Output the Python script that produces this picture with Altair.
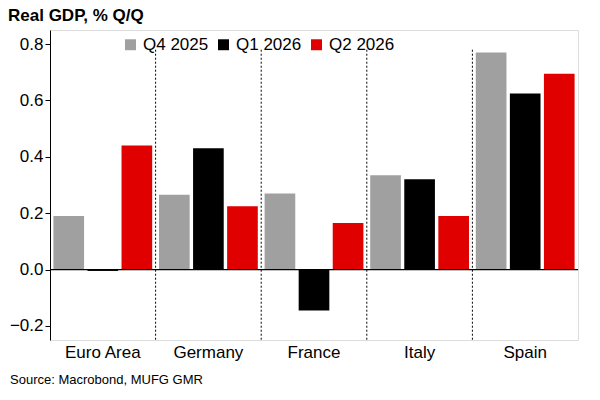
import altair as alt
import pandas as pd

countries = ["Euro Area", "Germany", "France", "Italy", "Spain"]
quarters = ["Q4 2025", "Q1 2026", "Q2 2026"]
q4_2025 = [0.19, 0.265, 0.27, 0.335, 0.77]
q1_2026 = [-0.005, 0.43, -0.145, 0.32, 0.625]
q2_2026 = [0.44, 0.225, 0.165, 0.19, 0.695]
colors = ["#a0a0a0", "#000000", "#e00000"]

rows = []
for q, vals in zip(quarters, [q4_2025, q1_2026, q2_2026]):
    for c, v in zip(countries, vals):
        rows.append({"country": c, "quarter": q, "value": v})
df = pd.DataFrame(rows)

x_enc = alt.X(
    "country:N", sort=countries, title=None,
    scale=alt.Scale(paddingInner=0, paddingOuter=0),
    axis=alt.Axis(orient="bottom", ticks=False, domain=False, labelAngle=0,
                  labelFontSize=17, labelColor="#000", labelPadding=4),
)

bars = alt.Chart(df).mark_bar().encode(
    x=x_enc,
    xOffset=alt.XOffset("quarter:N", sort=quarters,
                        scale=alt.Scale(paddingInner=0.1, paddingOuter=0.1)),
    y=alt.Y("value:Q", title=None,
            scale=alt.Scale(domain=[-0.25, 0.85], nice=False),
            axis=alt.Axis(values=[-0.2, -0.1, 0, 0.1, 0.2, 0.3, 0.4, 0.5, 0.6, 0.7, 0.8],
                          format=".1f", grid=False, labelFontSize=17, labelColor="#000",
                          labelOverlap=False, domainColor="#000", tickColor="#000", tickSize=5)),
    color=alt.Color("quarter:N", sort=quarters,
                    scale=alt.Scale(domain=quarters, range=colors),
                    legend=alt.Legend(title=None, orient="none", direction="horizontal",
                                      legendX=72, legendY=6, symbolType="square",
                                      symbolSize=120, symbolStrokeWidth=0,
                                      labelFontSize=17, labelColor="#000",
                                      columnPadding=6, symbolOpacity=1)),
)

div = pd.DataFrame({"country": countries[1:], "top": 0.78, "bottom": -0.25})
dividers = alt.Chart(div).mark_rule(color="#000", strokeDash=[2, 2], strokeWidth=1).encode(
    x=alt.X("country:N", sort=countries, bandPosition=0),
    y="top:Q", y2="bottom:Q",
)

zero = alt.Chart(pd.DataFrame({"v": [0]})).mark_rule(color="#000", strokeWidth=1.2).encode(y="v:Q")

title = alt.Chart(pd.DataFrame({"t": ["Real GDP, % Q/Q"]})).mark_text(
    align="left", baseline="middle", fontSize=17, fontWeight="bold", color="#000"
).encode(text="t:N", x=alt.value(-42), y=alt.value(-14))

source = alt.Chart(pd.DataFrame({"t": ["Source: Macrobond, MUFG GMR"]})).mark_text(
    align="left", baseline="middle", fontSize=13, color="#000"
).encode(text="t:N", x=alt.value(-40), y=alt.value(350))

chart = (bars + dividers + zero + title + source).properties(
    width=528, height=310,
    autosize=alt.AutoSizeParams(type="none"),
    padding={"left": 42, "top": 22, "right": 10, "bottom": 50},
).configure_view(stroke=None).configure(font="Liberation Sans")

chart.save("out.html", embed_options={"renderer": "svg", "actions": False})
